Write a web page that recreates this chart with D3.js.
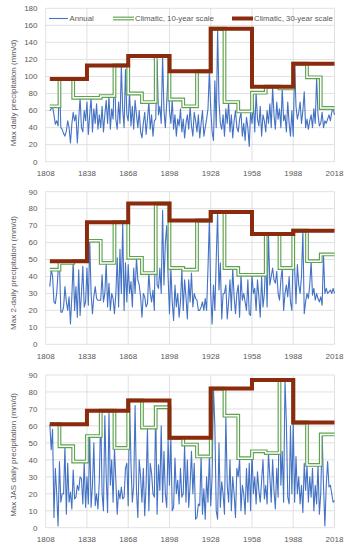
<!DOCTYPE html>
<html><head><meta charset="utf-8">
<script src="https://cdn.jsdelivr.net/npm/d3@7"></script>
<style>
html,body{margin:0;padding:0;background:#fff;}
svg{display:block;font-family:"Liberation Sans",Arial,sans-serif;}
</style></head>
<body>
<svg id="chart" width="355" height="550"></svg>
<script>
// ---- data ----
const firstYear = 1811, lastYear = 2018;
const xTicks = [1808, 1838, 1868, 1898, 1928, 1958, 1988, 2018];
const decadeStarts = [1811,1818,1828,1838,1848,1858,1868,1878,1888,1898,1908,1918,1928,1938,1948,1958,1968,1978,1988,1998,2008];
const thirtyStarts = [1811,1838,1868,1898,1928,1958,1988];

const annual1 = [
 60,62,65,55,44,48,42,
 97,40,38,33,30,36,48,40,22,44,
 58,48,55,22,50,75,40,35,60,48,
 70,32,55,75,35,62,45,68,38,55,
 40,65,35,55,72,45,77,38,62,50,
 110,50,38,70,45,113,60,40,108,55,
 48,80,42,65,38,72,55,40,60,35,
 28,45,58,32,50,70,38,55,30,48,
 50,118,55,65,45,124,60,40,70,105,
 60,45,73,38,55,30,50,42,62,35,
 50,28,45,55,38,65,42,30,58,48,
 35,55,28,45,60,30,40,50,62,106,
 62,35,25,95,40,156,70,45,38,55,
 30,62,45,70,35,55,28,48,60,40,
 35,50,58,30,45,25,52,40,18,59,
 45,70,35,81,50,42,65,30,55,48,
 35,60,45,68,40,88,55,38,70,50,
 62,40,86,48,55,35,70,45,30,60,
 30,115,65,50,58,70,45,60,82,40,
 50,38,48,55,40,62,45,99,55,42,
 45,58,40,48,45,50,55,48,58,63,55];
const decade1 = [65,97,75,75,77,113,80,70,124,73,65,106,156,70,59,81,88,86,115,99,63];
const thirty1 = [97,113,124,106,156,88,115];

const annual2 = [
 34,44,40,25,24,30,43,
 48,19,19,22,34,25,20,28,12,28,
 49,20,34,16,44,17,30,46,22,25,
 45,23,61,30,18,28,34,27,26,26,
 26,41,25,30,48,22,36,20,30,27,
 18,30,51,22,56,30,72,20,48,25,
 47,30,37,22,45,30,51,38,35,28,
 16,30,28,22,24,42,30,25,32,20,
 83,35,33,45,30,79,35,60,70,40,
 18,45,25,14,35,22,30,16,25,44,
 20,38,28,15,38,25,42,22,30,27,
 26,20,20,22,25,20,27,20,45,73,
 30,12,35,20,50,78,32,48,15,30,
 30,35,15,25,38,20,45,28,18,30,
 35,16,41,26,30,25,20,38,18,17,
 41,30,33,20,38,28,16,40,22,30,
 52,22,65,35,40,45,38,36,43,30,
 26,38,45,20,30,35,28,40,25,20,
 57,45,24,47,35,30,40,67,18,25,
 30,27,35,49,29,33,26,30,27,25,
 28,23,53,30,33,30,31,32,30,33,30];
const decade2 = [44,48,49,61,48,72,51,42,83,45,44,73,78,45,41,41,65,45,67,49,53];
const thirty2 = [49,72,83,73,78,65,67];

const annual3 = [
 61,46,58,6,35,20,1,
 39,15,20,20,48,8,38,15,21,11,
 34,17,18,25,22,30,29,14,39,12,
 30,14,54,12,25,50,13,20,11,28,
 69,20,10,66,30,9,68,25,40,15,
 47,28,8,22,17,24,17,18,35,38,
 13,75,38,15,25,72,22,6,40,30,
 15,35,7,25,59,10,38,32,20,18,
 71,8,37,22,60,15,45,20,12,52,
 25,53,10,12,41,20,28,14,35,18,
 20,49,15,40,12,25,45,20,38,5,
 6,14,13,42,8,23,5,30,15,42,
 13,30,82,60,10,5,50,12,27,20,
 8,66,25,15,40,10,30,20,6,35,
 30,41,10,25,20,8,35,15,38,10,
 45,20,30,14,33,22,15,28,40,17,
 25,14,44,30,15,40,22,11,35,18,
 86,25,45,15,87,62,18,14,60,20,
 62,15,42,20,30,14,25,9,38,22,
 37,15,30,18,35,10,25,14,37,8,
 20,55,25,1,25,39,24,25,20,15,16];
const decade3 = [61,48,39,54,69,47,75,59,71,53,49,42,82,66,41,45,44,87,62,37,55];
const thirty3 = [61,69,75,53,82,87,62];

const yTicks1 = [0,20,40,60,80,100,120,140,160,180];
const yTicks23 = [0,10,20,30,40,50,60,70,80,90];
const titles = ["Max daily precipitation (mm/d)", "Max 2-daily precipitation (mm/d)", "Max JAS daily precipitation (mm/d)"];
const legendLabels = ["Annual", "Climatic, 10-year scale", "Climatic, 30-year scale"];

// ---- style ----
const C_BLUE = "#4472C4", C_GREEN = "#5fa24f", C_RED = "#8c2a0e", C_GRID = "#d9d9d9", C_TEXT = "#595959";
const svg = d3.select("#chart");
const years = d3.range(firstYear, lastYear + 1);

const panels = [
  {annual: annual1, decade: decade1, thirty: thirty1, ticks: yTicks1, max: 180, top: 8.3, bottom: 161.7, labelY: 176, title: titles[0], titleY: 93},
  {annual: annual2, decade: decade2, thirty: thirty2, ticks: yTicks23, max: 90, top: 191.7, bottom: 344.3, labelY: 358.5, title: titles[1], titleY: 273},
  {annual: annual3, decade: decade3, thirty: thirty3, ticks: yTicks23, max: 90, top: 375, bottom: 527.7, labelY: 541.5, title: titles[2], titleY: 455}
];

const x = d3.scaleLinear().domain([1808, 2018]).range([45.7, 334.5]);

function stepPoints(starts, vals) {
  const pts = starts.map((s, i) => [s, vals[i]]);
  pts.push([lastYear, vals[vals.length - 1]]);
  return pts;
}

panels.forEach((p, pi) => {
  const y = d3.scaleLinear().domain([0, p.max]).range([p.bottom, p.top]);
  const g = svg.append("g");

  g.append("g").selectAll("line").data(p.ticks).join("line")
    .attr("x1", x.range()[0]).attr("x2", x.range()[1])
    .attr("y1", d => y(d)).attr("y2", d => y(d))
    .attr("stroke", C_GRID).attr("stroke-width", 0.8);
  g.append("g").selectAll("line").data(xTicks).join("line")
    .attr("x1", d => x(d)).attr("x2", d => x(d))
    .attr("y1", p.top).attr("y2", p.bottom)
    .attr("stroke", C_GRID).attr("stroke-width", 0.8);

  g.append("g").selectAll("text").data(p.ticks).join("text")
    .attr("x", 37.5).attr("y", d => y(d)).attr("dy", "0.35em")
    .attr("text-anchor", "end").attr("font-size", 8).attr("fill", C_TEXT)
    .text(d => d);
  g.append("g").selectAll("text").data(xTicks).join("text")
    .attr("x", d => x(d)).attr("y", p.labelY)
    .attr("text-anchor", "middle").attr("font-size", 8).attr("fill", C_TEXT)
    .text(d => d);
  g.append("text")
    .attr("transform", `translate(16,${p.titleY}) rotate(-90)`)
    .attr("text-anchor", "middle").attr("font-size", 8).attr("fill", C_TEXT)
    .text(p.title);

  const lineA = d3.line().x((d, i) => x(years[i])).y(d => y(d));
  g.append("path").datum(p.annual).attr("d", lineA)
    .attr("fill", "none").attr("stroke", C_BLUE).attr("stroke-width", 1.1).attr("stroke-linejoin", "round");

  const lineS = d3.line().x(d => x(d[0])).y(d => y(d[1])).curve(d3.curveStepAfter);
  const dPts = stepPoints(decadeStarts, p.decade);
  g.append("path").datum(dPts).attr("d", lineS)
    .attr("fill", "none").attr("stroke", C_GREEN).attr("stroke-width", 3.8);
  g.append("path").datum(dPts).attr("d", lineS)
    .attr("fill", "none").attr("stroke", "#fff").attr("stroke-width", 1.5);

  const tPts = stepPoints(thirtyStarts, p.thirty);
  g.append("path").datum(tPts).attr("d", lineS)
    .attr("fill", "none").attr("stroke", C_RED).attr("stroke-width", 4);

  if (pi === 0) {
    const lg = g.append("g");
    const ly = 18.5;
    const items = [
      {x0: 49, x1: 68, tx: 69.5, type: "a"},
      {x0: 113, x1: 134, tx: 135, type: "d"},
      {x0: 232, x1: 253, tx: 254, type: "t"}
    ];
    items.forEach((it, k) => {
      if (it.type === "a") {
        lg.append("line").attr("x1", it.x0).attr("x2", it.x1).attr("y1", ly).attr("y2", ly)
          .attr("stroke", C_BLUE).attr("stroke-width", 1.1);
      } else if (it.type === "d") {
        lg.append("line").attr("x1", it.x0).attr("x2", it.x1).attr("y1", ly).attr("y2", ly)
          .attr("stroke", C_GREEN).attr("stroke-width", 3.8);
        lg.append("line").attr("x1", it.x0).attr("x2", it.x1).attr("y1", ly).attr("y2", ly)
          .attr("stroke", "#fff").attr("stroke-width", 1.5);
      } else {
        lg.append("line").attr("x1", it.x0).attr("x2", it.x1).attr("y1", ly).attr("y2", ly)
          .attr("stroke", C_RED).attr("stroke-width", 4);
      }
      lg.append("text").attr("x", it.tx).attr("y", ly).attr("dy", "0.35em")
        .attr("font-size", 7.8).attr("fill", C_TEXT).text(legendLabels[k]);
    });
  }
});
</script>
</body></html>
